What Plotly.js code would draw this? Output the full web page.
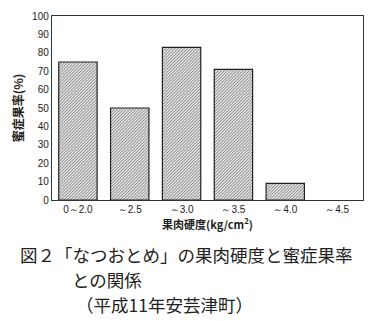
<!DOCTYPE html>
<html><head><meta charset="utf-8">
<script src="https://cdn.plot.ly/plotly-3.0.1.min.js"></script>
<style>body{margin:0;background:#fff}#c{width:381px;height:321px}</style>
</head><body><div id="c"></div>
<script>
const categories = ["0～2.0", "～2.5", "～3.0", "～3.5", "～4.0", "～4.5"];
const values = [75, 50, 83, 71, 9, 0];
const yTicks = [0, 10, 20, 30, 40, 50, 60, 70, 80, 90, 100];
const yTitle = "蜜症果率(%)";
const xTitle = "果肉硬度(kg/cm<sup>2</sup>)";
const captionLines = ["図２「なつおとめ」の果肉硬度と蜜症果率", "との関係", "（平成11年安芸津町）"];

const trace = {
  type: 'bar', x: categories, y: values,
  marker: {color: '#e6e6e6', line: {color: '#222', width: values.map(v => v > 0 ? 1.2 : 0)},
    pattern: {shape: '/', size: 2.2, solidity: 0.4, fgcolor: '#777', bgcolor: '#f2f2f2'}},
  hoverinfo: 'skip'
};
const capFont = {family: '"Noto Sans CJK JP", sans-serif', size: 17.5, color: '#222'};
const layout = {
  width: 381, height: 321,
  margin: {l: 52, r: 18, t: 16, b: 121},
  paper_bgcolor: '#fff', plot_bgcolor: '#fff',
  showlegend: false, bargap: 0.26,
  font: {family: 'Arial, "Liberation Sans", sans-serif', size: 10, color: '#222'},
  xaxis: {type: 'category', showline: true, linecolor: '#333', linewidth: 1.2, mirror: true,
    ticks: '', tickfont: {size: 10}, showgrid: false,
    title: {text: '<b>' + xTitle + '</b>', font: {family: '"Noto Sans CJK JP", sans-serif', size: 11}, standoff: 2}},
  yaxis: {range: [0, 100], tickvals: yTicks, showline: true, linecolor: '#333', linewidth: 1.2, mirror: true,
    ticks: '', showgrid: false, zeroline: false, tickfont: {size: 10},
    title: {text: '<b>' + yTitle + '</b>', font: {family: '"Noto Sans CJK JP", sans-serif', size: 12}, standoff: 6}},
  annotations: [
    {xref: 'paper', yref: 'paper', x: -0.11, y: (200 - 255) / 184, xanchor: 'left', yanchor: 'middle', showarrow: false,
     text: captionLines[0], font: capFont},
    {xref: 'paper', yref: 'paper', x: 0.058, y: (200 - 279) / 184, xanchor: 'left', yanchor: 'middle', showarrow: false,
     text: captionLines[1], font: capFont},
    {xref: 'paper', yref: 'paper', x: 0.07, y: (200 - 304) / 184, xanchor: 'left', yanchor: 'middle', showarrow: false,
     text: captionLines[2], font: capFont}
  ]
};
Plotly.newPlot('c', [trace], layout, {staticPlot: true, displayModeBar: false});
</script></body></html>
